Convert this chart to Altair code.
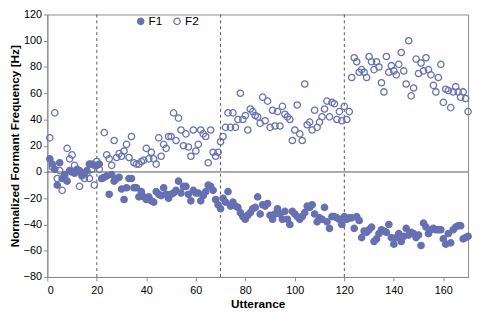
import altair as alt
import pandas as pd

utterance = list(range(1, 171))

f1 = [10, 6, 2, -10, 7, -5, -2, -7, 1, 0,
      -1, 2, 1, -3, -1, 1, 6, 6, 5, 5,
      6, -5, -4, -3, -17, -2, -7, -5, -4, -13,
      -21, -12, -5, -5, -12, -12, -19, -15, -19, -21,
      -19, -22, -23, -15, -17, -18, -12, -17, -20, -17,
      -16, -14, -7, -16, -11, -11, -17, -22, -14, -16,
      -16, -22, -18, -15, -10, -11, -14, -21, -25, -28,
      -20, -23, -15, -26, -23, -26, -27, -31, -34, -36,
      -33, -31, -28, -27, -19, -32, -25, -26, -24, -33,
      -36, -32, -28, -32, -36, -30, -36, -40, -30, -32,
      -34, -36, -34, -31, -26, -27, -25, -32, -38, -35,
      -36, -27, -38, -43, -34, -34, -35, -36, -40, -34,
      -36, -35, -35, -43, -34, -37, -50, -45, -46, -44,
      -42, -53, -51, -47, -44, -45, -46, -40, -50, -55,
      -50, -47, -53, -49, -43, -48, -46, -47, -50, -48,
      -56, -39, -42, -47, -44, -43, -44, -44, -44, -51,
      -55, -47, -54, -44, -42, -41, -41, -51, -50, -49]

f2 = [26, 4, 45, -5, 1, -14, -3, 18, 10, 13,
      5, 1, -11, -2, -5, -1, -5, 2, -10, 8,
      2, -5, 30, 13, 10, 5, 24, 11, 14, 12,
      16, 21, 11, 27, 7, 6, 6, 8, 9, 18,
      10, 15, 10, 6, 26, 12, 21, 18, 27, 27,
      45, 24, 41, 32, 20, 29, 19, 12, 32, 16,
      21, 32, 29, 27, 7, 32, 15, 12, 15, 23,
      27, 34, 45, 34, 45, 34, 40, 60, 40, 43,
      32, 48, 46, 43, 42, 37, 57, 39, 54, 34,
      47, 35, 46, 35, 50, 44, 42, 40, 24, 32,
      51, 29, 24, 67, 36, 38, 32, 47, 34, 38,
      42, 48, 54, 42, 53, 52, 40, 46, 39, 50,
      40, 46, 72, 87, 84, 76, 78, 76, 72, 88,
      84, 78, 84, 80, 68, 61, 88, 76, 81, 77,
      74, 82, 91, 77, 67, 100, 58, 64, 86, 75,
      83, 77, 87, 78, 74, 66, 61, 72, 82, 53,
      63, 62, 49, 61, 65, 61, 57, 61, 56, 46]

series_names = ["F1", "F2"]
divider_x = [20, 70, 120]
x_ticks = [0, 20, 40, 60, 80, 100, 120, 140, 160]
y_ticks = [-80, -60, -40, -20, 0, 20, 40, 60, 80, 100, 120]

COLOR = "#6670b2"

df = pd.DataFrame({
    "Utterance": utterance * 2,
    "Value": f1 + f2,
    "Series": ["F1"] * len(f1) + ["F2"] * len(f2),
})

xscale = alt.Scale(domain=[0, 170], nice=False, zero=False)
yscale = alt.Scale(domain=[-80, 120], nice=False)
xaxis = alt.Axis(values=x_ticks, title="Utterance", grid=False, labelOverlap=False)
yaxis = alt.Axis(values=y_ticks, title="Normalized Formant Frequency [Hz]", grid=False,
                 labelOverlap=False)

legend = alt.Legend(
    title=None, orient="none", legendX=89, legendY=1, direction="horizontal",
    labelFontSize=12, symbolSize=42, symbolStrokeWidth=1.3, columnPadding=8,
    labelOffset=2, padding=0,
)

points = alt.Chart(df).mark_point(shape="circle", size=42, strokeWidth=1.3, opacity=1, fillOpacity=1).encode(
    x=alt.X("Utterance:Q", scale=xscale, axis=xaxis),
    y=alt.Y("Value:Q", scale=yscale, axis=yaxis),
    fill=alt.Fill("Series:N", scale=alt.Scale(domain=series_names, range=[COLOR, "transparent"]), legend=legend),
    stroke=alt.Stroke("Series:N", scale=alt.Scale(domain=series_names, range=[COLOR, COLOR]), legend=legend),
)

zero = alt.Chart(pd.DataFrame({"y": [0]})).mark_rule(color="#555555", strokeWidth=1).encode(
    y=alt.Y("y:Q", scale=yscale, axis=yaxis)
)

dividers = alt.Chart(pd.DataFrame({"x": divider_x})).mark_rule(
    color="#555555", strokeWidth=1, strokeDash=[3, 3]
).encode(x=alt.X("x:Q", scale=xscale, axis=xaxis))

chart = alt.layer(zero, dividers, points).properties(
    width=428, height=267,
    autosize=alt.AutoSizeParams(type="none"),
    padding={"left": 40, "top": 4, "right": 4, "bottom": 31},
).configure(
    font="Liberation Sans",
).configure_view(
    stroke="#8a8a8a", strokeWidth=1,
).configure_axis(
    labelFontSize=11, labelColor="#000000", titleFontSize=12, titleFontWeight="bold",
    titleColor="#000000", domainColor="#8a8a8a", tickColor="#8a8a8a", tickSize=4,
).configure_axisY(
    labelPadding=2, titlePadding=2,
).configure_axisX(
    labelPadding=4, titlePadding=3,
)

chart.save("out.html", embed_options={"renderer": "svg", "actions": False})
